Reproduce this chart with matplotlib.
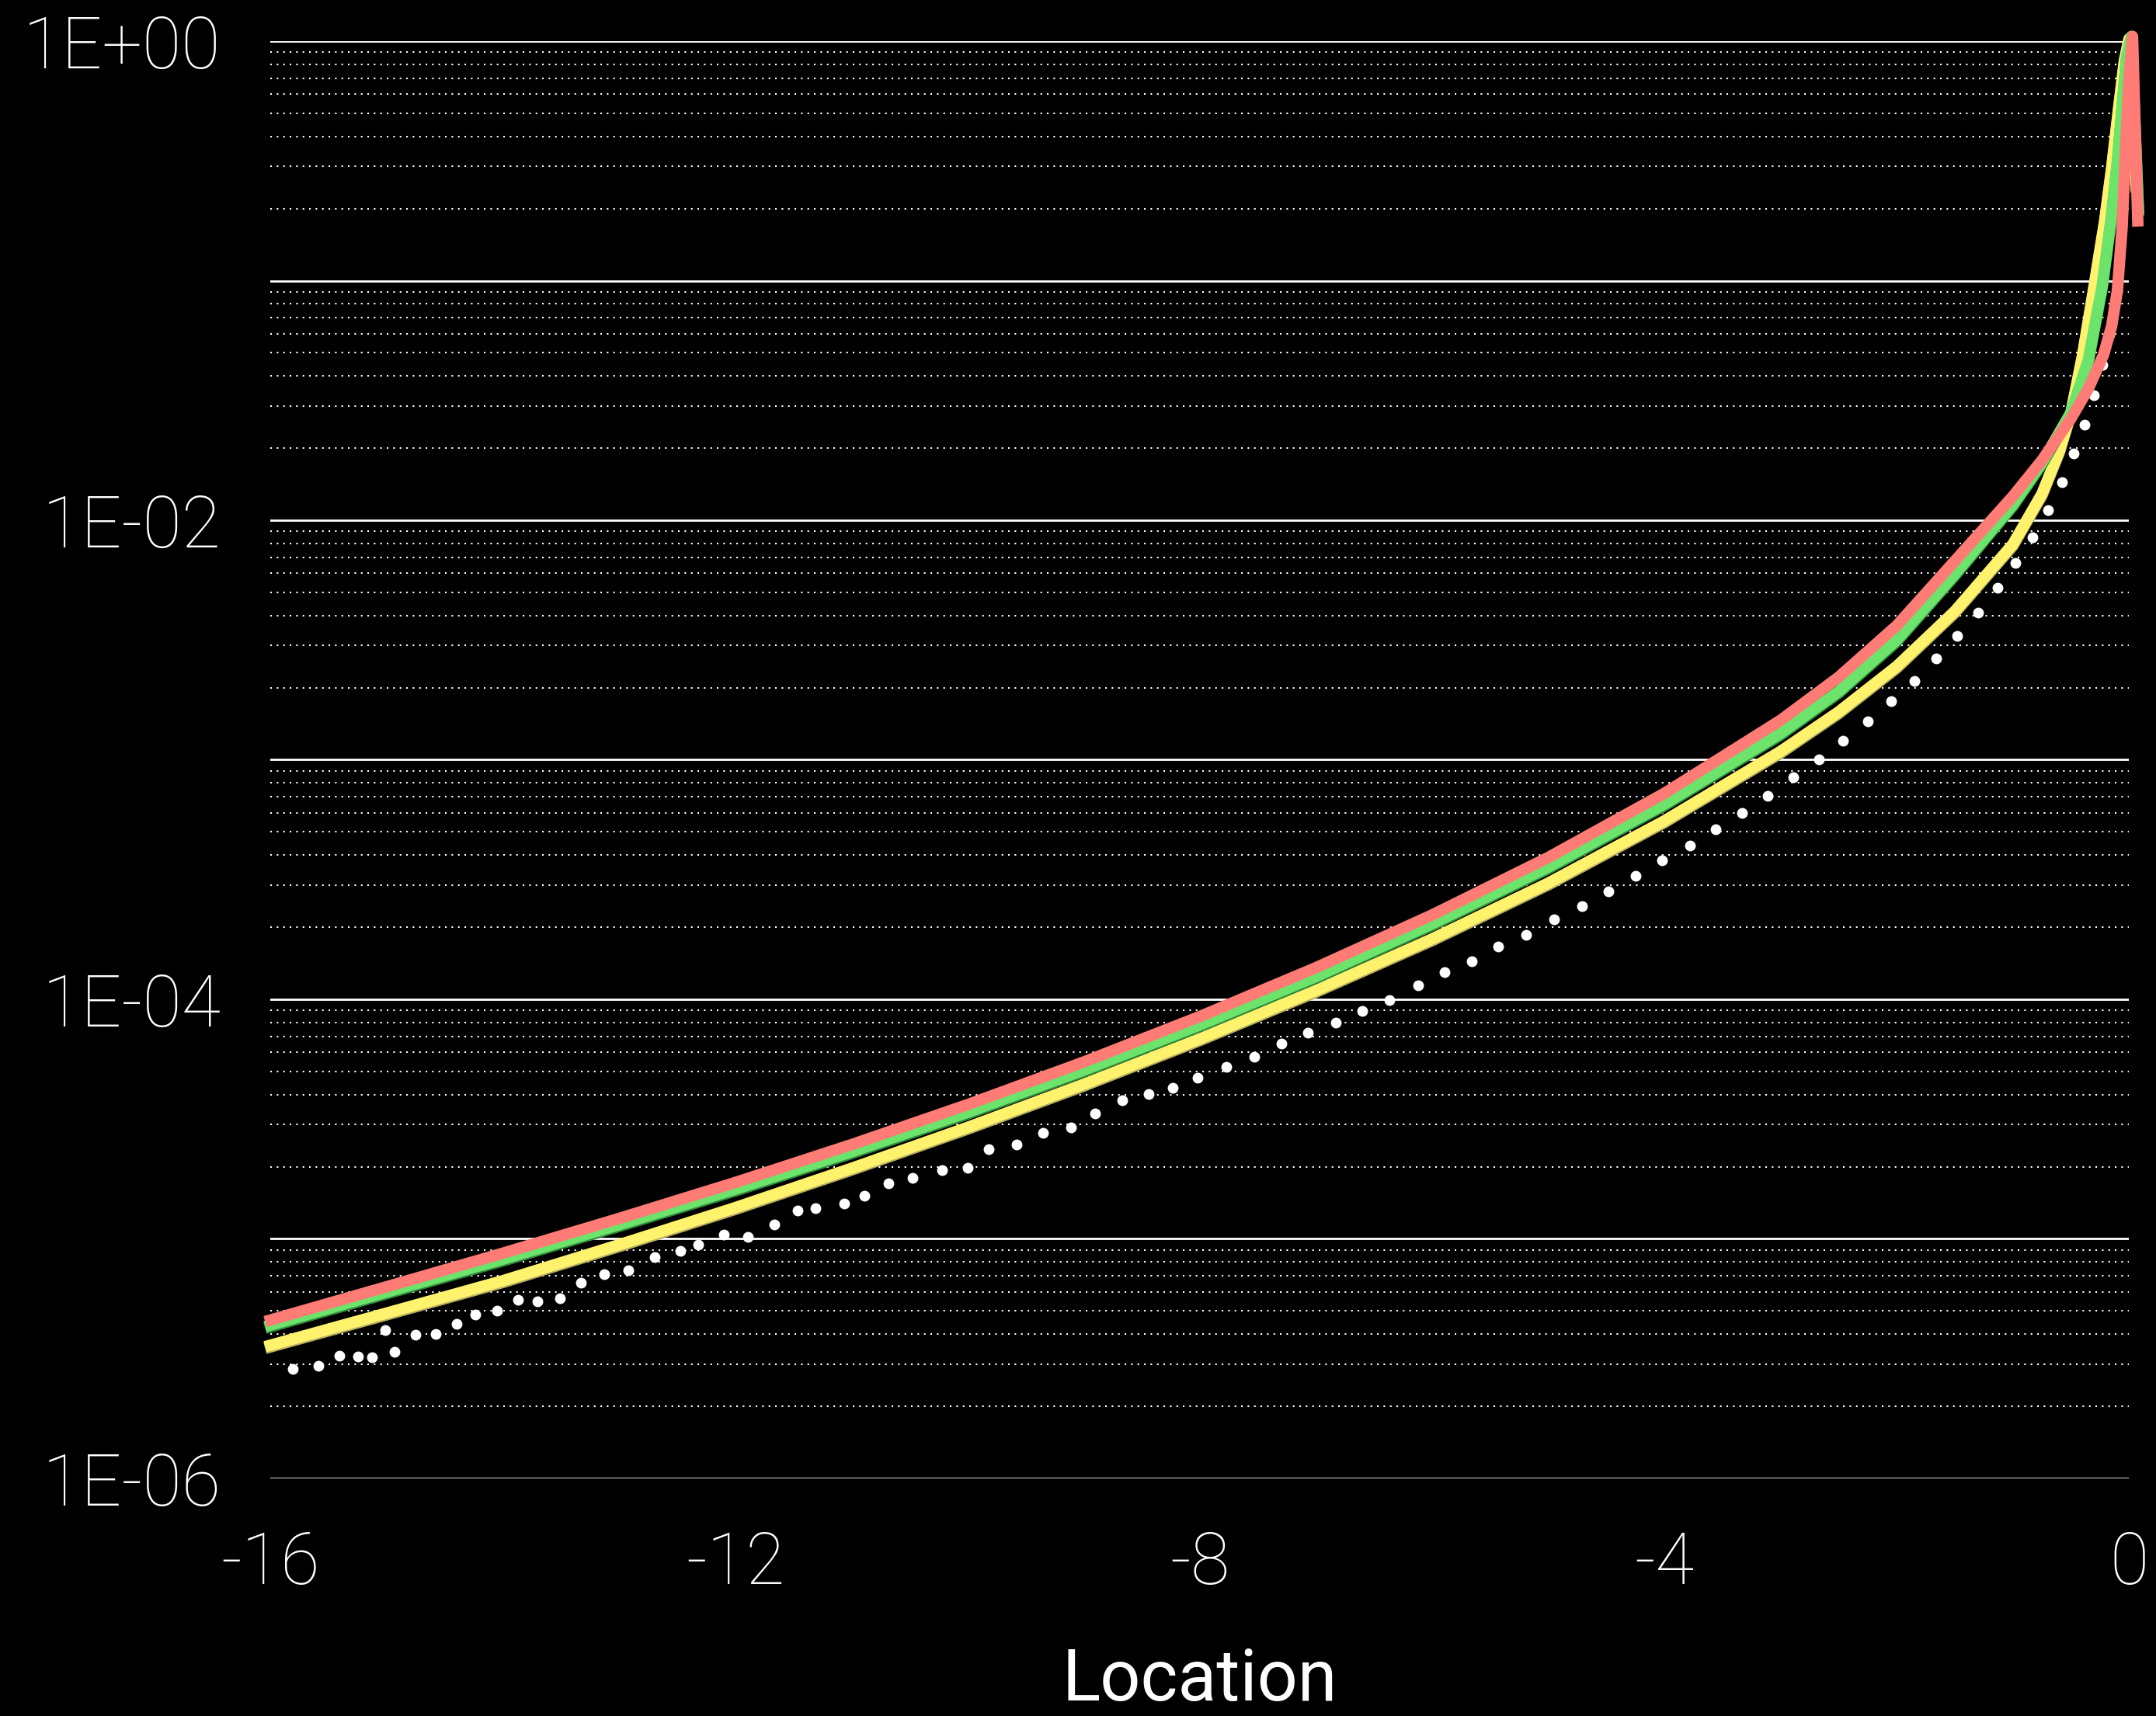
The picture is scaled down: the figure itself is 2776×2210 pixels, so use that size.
import numpy as np
import matplotlib
matplotlib.use("Agg")
import matplotlib.pyplot as plt
import matplotlib.patheffects as pe
from matplotlib.ticker import LogLocator, FuncFormatter, NullFormatter

# white dots (observed)
dots_x = [-15.81, -15.59, -15.41, -15.25, -15.13, -15.01, -14.93, -14.75, -14.58, -14.40,
          -14.24, -14.05, -13.87, -13.70, -13.51, -13.33, -13.13, -12.92, -12.69, -12.47,
          -12.32, -12.10, -11.89, -11.66, -11.46, -11.31, -11.06, -10.89, -10.68, -10.47,
          -10.22, -10.00, -9.82, -9.58, -9.35, -9.11, -8.90, -8.67, -8.44, -8.23,
          -8.02, -7.77, -7.53, -7.30, -7.07, -6.83, -6.60, -6.37, -6.12, -5.89,
          -5.66, -5.43, -5.19, -4.95, -4.71, -4.48, -4.25, -4.02, -3.78, -3.56,
          -3.33, -3.11, -2.89, -2.67, -2.46, -2.25, -2.05, -1.85, -1.66, -1.48,
          -1.30, -1.13, -0.98, -0.83, -0.70, -0.58, -0.475, -0.383, -0.303, -0.229, -0.167]
dots_y = [2.86e-6, 2.96e-6, 3.24e-6, 3.23e-6, 3.21e-6, 4.15e-6, 3.38e-6, 3.99e-6, 4.00e-6, 4.43e-6,
          4.84e-6, 5.01e-6, 5.55e-6, 5.50e-6, 5.65e-6, 6.57e-6, 7.11e-6, 7.41e-6, 8.38e-6, 8.91e-6,
          9.48e-6, 1.04e-5, 1.02e-5, 1.15e-5, 1.31e-5, 1.34e-5, 1.40e-5, 1.51e-5, 1.70e-5, 1.80e-5,
          1.93e-5, 1.98e-5, 2.37e-5, 2.48e-5, 2.77e-5, 2.92e-5, 3.34e-5, 3.79e-5, 4.03e-5, 4.27e-5,
          4.69e-5, 5.21e-5, 5.74e-5, 6.51e-5, 7.26e-5, 8.02e-5, 8.97e-5, 9.95e-5, 1.14e-4, 1.30e-4,
          1.44e-4, 1.66e-4, 1.86e-4, 2.15e-4, 2.45e-4, 2.82e-4, 3.28e-4, 3.79e-4, 4.39e-4, 5.14e-4,
          6.01e-4, 7.09e-4, 8.45e-4, 1.00e-3, 1.20e-3, 1.45e-3, 1.76e-3, 2.14e-3, 2.65e-3, 3.28e-3,
          4.11e-3, 5.21e-3, 6.64e-3, 8.51e-3, 1.10e-2, 1.44e-2, 1.90e-2, 2.51e-2, 3.33e-2, 4.45e-2, 5.97e-2]

# model curves, read as log10 of the value
red_x = [-16, -15, -14, -13, -12, -11, -10, -9, -8, -7, -6, -5, -4, -3, -2.5, -2, -1.5, -1,
         -0.75, -0.5, -0.35, -0.22, -0.15, -0.10, -0.06, -0.03, 0.0, 0.03, 0.075]
red_log = [-5.339, -5.20, -5.06, -4.915, -4.765, -4.607, -4.44, -4.262, -4.072, -3.868, -3.648,
           -3.408, -3.14, -2.835, -2.655, -2.44, -2.17, -1.90,
           -1.75, -1.575, -1.45, -1.31, -1.19, -1.04, -0.78, -0.45, -0.15, 0.02, -0.75]

green_x = [-16, -15, -14, -13, -12, -11, -10, -9, -8, -7, -6, -5, -4, -3, -2.5, -2, -1.5, -1,
           -0.75, -0.5, -0.35, -0.23, -0.154, -0.10, -0.05, -0.02, 0.02, 0.08]
green_log = [-5.36, -5.222, -5.085, -4.941, -4.793, -4.637, -4.472, -4.296, -4.107, -3.905, -3.685,
             -3.448, -3.185, -2.89, -2.715, -2.50, -2.225, -1.935,
             -1.76, -1.55, -1.33, -1.02, -0.74, -0.50, -0.22, -0.06, 0.02, -0.70]

yellow_x = [-16, -15, -14, -13, -12, -11, -10, -9, -8, -7, -6, -5, -4, -3, -2.5, -2, -1.5, -1,
            -0.75, -0.6, -0.5, -0.4, -0.3, -0.21, -0.15, -0.09, -0.04, 0.0, 0.06]
yellow_log = [-5.444, -5.31, -5.175, -5.025, -4.87, -4.706, -4.535, -4.355, -4.165, -3.963, -3.748,
              -3.515, -3.255, -2.965, -2.80, -2.61, -2.38, -2.10,
              -1.89, -1.71, -1.55, -1.31, -1.02, -0.75, -0.53, -0.28, -0.08, 0.01, -0.6]

x_ticks = [-16, -12, -8, -4, 0]

plt.rcParams['font.family'] = ['Roboto', 'DejaVu Sans']
plt.rcParams['font.weight'] = 'light'

fig = plt.figure(figsize=(13.88, 11.05), dpi=200, facecolor='black')
ax = fig.add_axes([0.1255, 0.1385, 0.862, 0.8375])
ax.set_facecolor('black')

ax.set_yscale('log')
ax.set_xlim(-16, 0)
ax.set_ylim(1e-6, 1)

ax.yaxis.set_major_locator(LogLocator(base=10, numticks=20))
ax.yaxis.set_minor_locator(LogLocator(base=10, subs=np.arange(2, 10), numticks=20))
def ylab(v, pos):
    e = int(round(np.log10(v)))
    return f"1E{e:+03d}" if e % 2 == 0 else ""
ax.yaxis.set_major_formatter(FuncFormatter(ylab))
ax.yaxis.set_minor_formatter(NullFormatter())
ax.set_xticks(x_ticks)
ax.set_xticklabels([str(t) for t in x_ticks])

ax.grid(which='major', axis='y', color='white', lw=1.0, ls='-', zorder=0)
ax.grid(which='minor', axis='y', color='white', lw=0.75, ls=(0, (1, 3)), zorder=0)
ax.set_axisbelow(True)

for s in ax.spines.values():
    s.set_visible(False)
ax.tick_params(which='both', length=0, colors='white', labelsize=33)
ax.tick_params(axis='x', pad=24)
ax.tick_params(axis='y', pad=23)

ax.plot(dots_x, dots_y, 'o', color='white', ms=5.0, mec='none', zorder=2)

lw = 5.3
ax.plot(yellow_x, 10 ** np.array(yellow_log), color='#FFF36E', lw=lw, zorder=3, clip_on=False,
        path_effects=[pe.SimpleLineShadow(offset=(0, -0.8), shadow_color='#B8B060', alpha=1), pe.Normal()])
ax.plot(green_x, 10 ** np.array(green_log), color='#6CE46C', lw=lw, zorder=4, clip_on=False,
        path_effects=[pe.SimpleLineShadow(offset=(0, -0.8), shadow_color='#2F8A3C', alpha=1), pe.Normal()])
ax.plot(red_x, 10 ** np.array(red_log), color='#FF7B75', lw=lw, zorder=5, clip_on=False)

ax.set_xlabel('Location', color='white', fontsize=33, labelpad=22)

fig.savefig('out.png', dpi=200, facecolor='black')
